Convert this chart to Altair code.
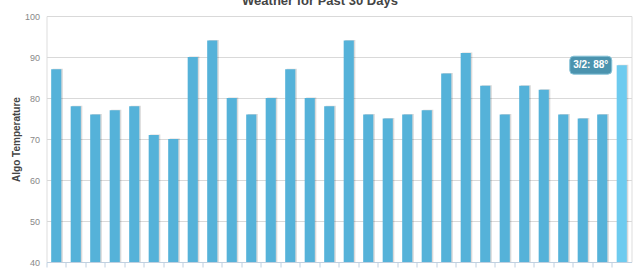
import altair as alt
import pandas as pd

dates = ["2/1", "2/2", "2/3", "2/4", "2/5", "2/6", "2/7", "2/8", "2/9", "2/10",
         "2/11", "2/12", "2/13", "2/14", "2/15", "2/16", "2/17", "2/18", "2/19", "2/20",
         "2/21", "2/22", "2/23", "2/24", "2/25", "2/26", "2/27", "2/28", "3/1", "3/2"]
temps = [87, 78, 76, 77, 78, 71, 70, 90, 94, 80,
         76, 80, 87, 80, 78, 94, 76, 75, 76, 77,
         86, 91, 83, 76, 83, 82, 76, 75, 76, 88]
highlight = "3/2"
title_text = "Weather for Past 30 Days"
y_title = "Algo Temperature"
y_ticks = [40, 50, 60, 70, 80, 90, 100]

df = pd.DataFrame({"date": dates, "temp": temps})
df["hl"] = df["date"] == highlight
df["label"] = df["date"] + ": " + df["temp"].astype(str) + "°"

FONT = "Liberation Sans"

x_enc = alt.X("date:N", sort=dates,
              scale=alt.Scale(paddingInner=0, paddingOuter=0),
              axis=alt.Axis(title=None, labels=False, bandPosition=0,
                            domainColor="#c0d0e0", tickColor="#c0d0e0",
                            tickSize=5, grid=False))
y_enc = alt.Y("temp:Q",
              scale=alt.Scale(domain=[40, 100], zero=False, nice=False),
              axis=alt.Axis(title=y_title, values=y_ticks, grid=True,
                            gridColor="#d9d9d9", domain=False, ticks=False,
                            labelPadding=7, labelColor="#888", labelFontSize=9,
                            labelFont=FONT, titleFont=FONT, titleFontSize=10,
                            titleColor="#444", titleFontWeight="bold",
                            titlePadding=3))

base = alt.Chart(df)

shadow = base.mark_bar(width=alt.RelativeBandSize(0.52), xOffset=1.5, yOffset=-0.5,
                       color="#000", opacity=0.15).encode(
    x=x_enc, y=y_enc, y2=alt.datum(40))

bars = base.mark_bar(width=alt.RelativeBandSize(0.52)).encode(
    x=x_enc, y=y_enc, y2=alt.datum(40),
    color=alt.condition("datum.hl", alt.value("#6dcbef"), alt.value("#55b2d9")))

box_path = ("M-0.81,-0.4286 L0.81,-0.4286 Q1,-0.4286 1,-0.24 L1,0.24 "
            "Q1,0.4286 0.81,0.4286 L-0.81,0.4286 Q-1,0.4286 -1,0.24 "
            "L-1,-0.24 Q-1,-0.4286 -0.81,-0.4286 Z")

hl_df = base.transform_filter("datum.hl")

tip_box = hl_df.mark_point(shape=box_path, size=1764, filled=True, fill="#4b93ae",
                           stroke="#86c3d8", strokeWidth=1, opacity=1,
                           xOffset=-31).encode(x=x_enc, y=y_enc)

tip_text = hl_df.mark_text(font=FONT, fontSize=10, fontWeight="bold", color="white",
                           xOffset=-31, align="center", baseline="middle").encode(
    x=x_enc, y=y_enc, text="label:N")

title = alt.Chart(pd.DataFrame({"t": [title_text]})).mark_text(
    font=FONT, fontSize=13, fontWeight="bold", color="#444", align="center",
    baseline="alphabetic").encode(
    x=alt.value(273.5), y=alt.value(-11.5), text="t:N")

chart = alt.layer(shadow, bars, tip_box, tip_text, title).properties(
    width=585, height=246,
    autosize=alt.AutoSizeParams(type="none"),
    padding={"left": 46.5, "top": 16, "right": 8.5, "bottom": 9},
).configure_view(stroke=None).configure(background="white")

chart.save("out.html", embed_options={"renderer": "svg", "actions": False})
